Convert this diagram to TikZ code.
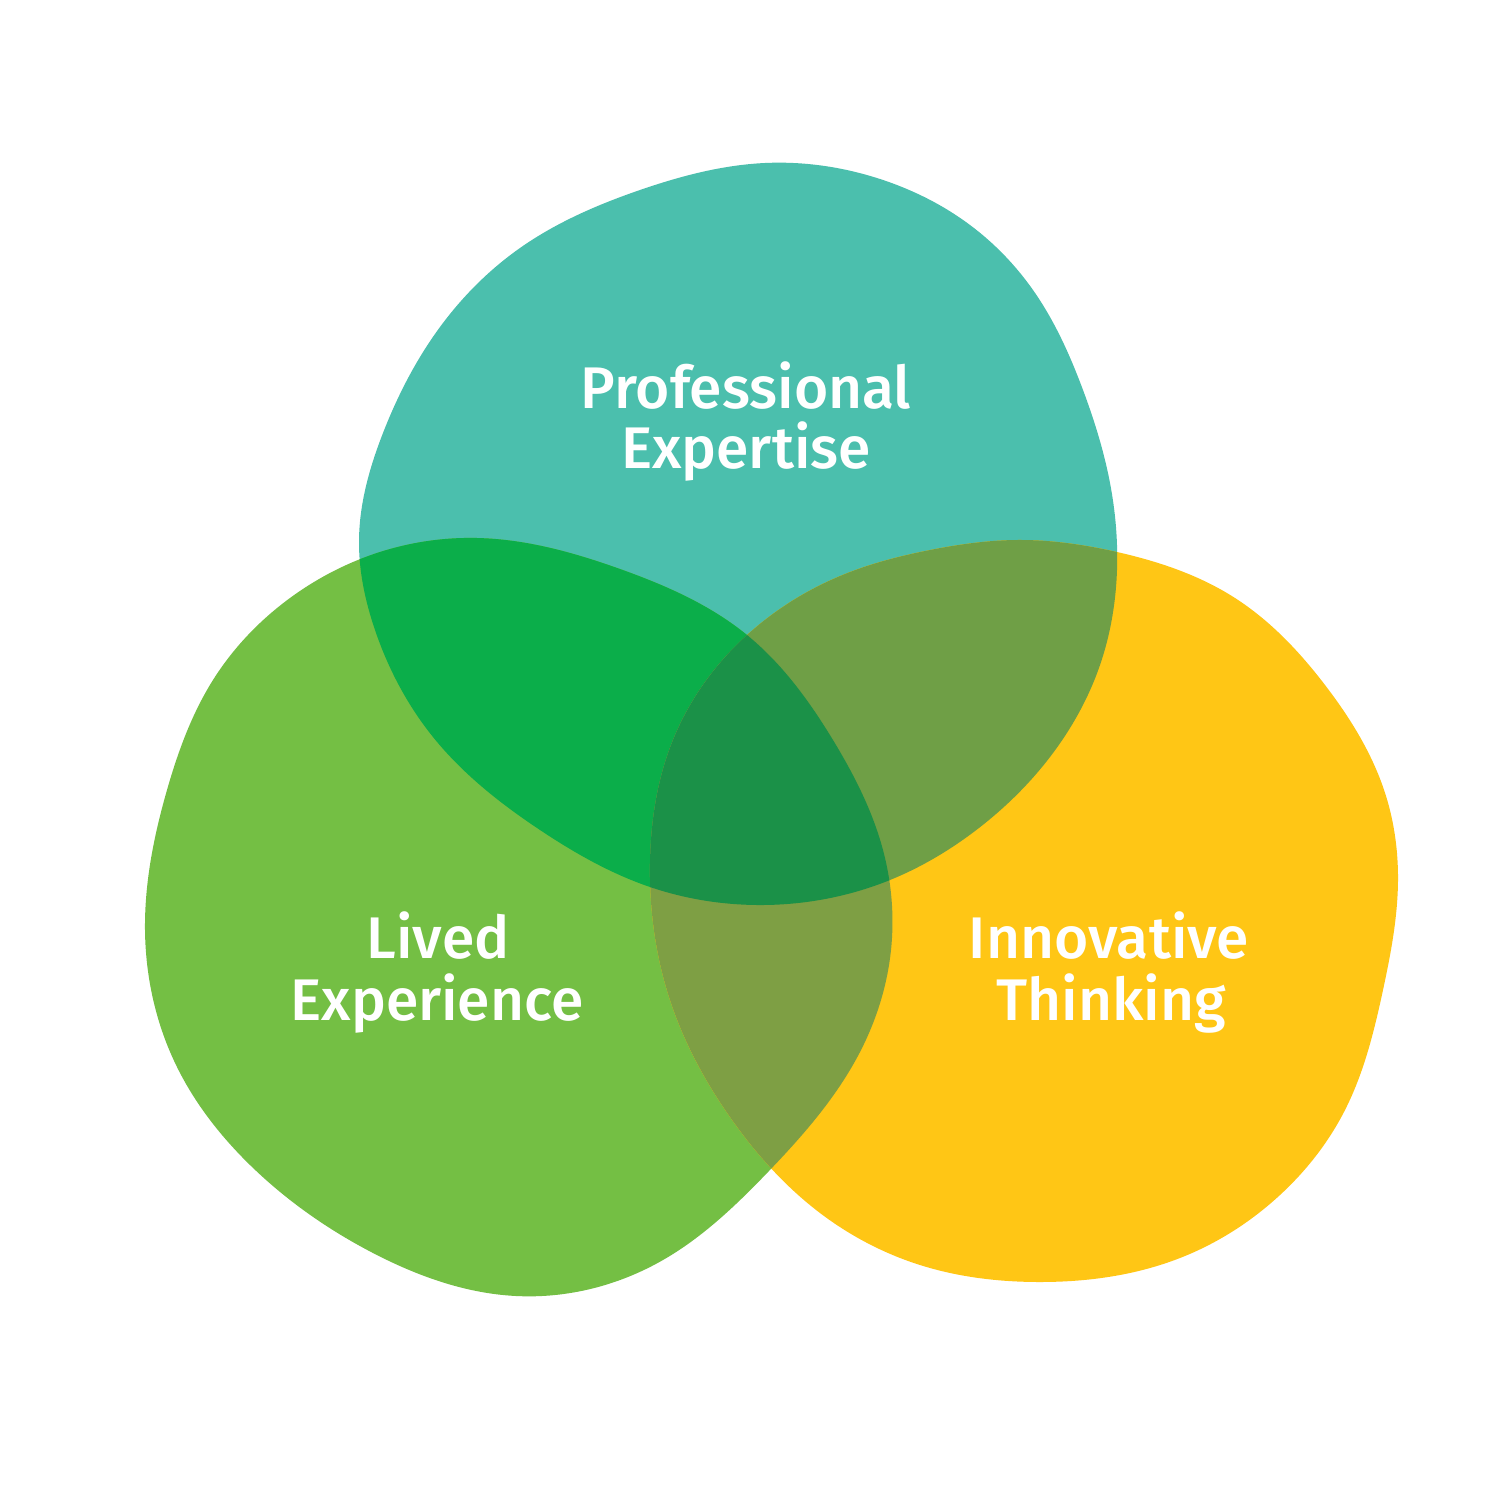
\documentclass[tikz,border=0pt]{standalone}
\usepackage{fontspec}
\usetikzlibrary{hobby}
\newfontfamily\labfont{Fira Sans Medium}
\definecolor{cA}{HTML}{4BBFAD}
\definecolor{cB}{HTML}{74BF44}
\definecolor{cC}{HTML}{FFC615}
\definecolor{cAB}{HTML}{0BAE4A}
\definecolor{cAC}{HTML}{6F9F46}
\definecolor{cBC}{HTML}{7E9F44}
\definecolor{cABC}{HTML}{1B9148}
\def\blobA{plot[closed hobby] coordinates {(765,163) (880,179) (970,225) (1033,290) (1083,390) (1110,483) (1117,570) (1100,665) (1050,757) (975,831) (890,880) (757,905) (650,887) (540,830) (433,737) (375,630) (359,540) (383,433) (440,327) (520,248) (640,190)}}
\def\blobB{plot[closed hobby] coordinates {(477,538) (620,569) (747,635) (833,740) (883,850) (891,950) (860,1052) (768,1172) (663,1260) (516,1296) (373,1253) (250,1165) (177,1067) (145,930) (167,790) (213,680) (290,598) (380,552)}}
\def\blobC{plot[closed hobby] coordinates {(1017,540) (1117,552) (1235,598) (1325,685) (1386,796) (1398,880) (1383,990) (1345,1110) (1280,1195) (1180,1258) (1040,1282) (920,1265) (820,1213) (730,1117) (670,1000) (650,863) (673,740) (747,635) (850,572) (930,550)}}
\begin{document}
\begin{tikzpicture}[x=0.01cm,y=-0.01cm,
  lab/.style={text=white,font=\labfont\fontsize{16.7}{17}\selectfont,inner sep=0pt,anchor=base}]
\useasboundingbox (0,0) rectangle (1500,1500);
\fill[white] (0,0) rectangle (1500,1500);
\fill[cA] \blobA;
\fill[cB] \blobB;
\fill[cC] \blobC;
\begin{scope}\clip \blobA; \fill[cAB] \blobB; \end{scope}
\begin{scope}\clip \blobA; \fill[cAC] \blobC; \end{scope}
\begin{scope}\clip \blobB; \fill[cBC] \blobC; \end{scope}
\begin{scope}\clip \blobA; \clip \blobB; \fill[cABC] \blobC; \end{scope}
\node[lab] (pe1) at (746,408) {Professional};
\node[lab] (pe2) at (746,468) {Expertise};
\node[lab] (le1) at (438,958) {Lived};
\node[lab] (le2) at (437,1020) {Experience};
\node[lab] (it1) at (1109,958) {Innovative};
\node[lab] (it2) at (1111,1020) {Thinking};
\end{tikzpicture}
\end{document}
